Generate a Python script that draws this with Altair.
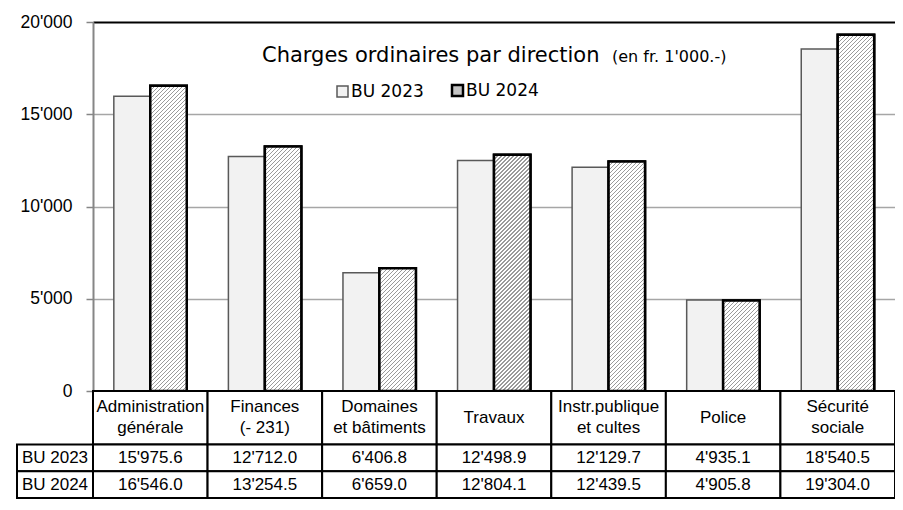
import altair as alt

# ---------------- data ----------------
categories = ["Administration\ngénérale", "Finances\n(- 231)", "Domaines\net bâtiments",
              "Travaux", "Instr.publique\net cultes", "Police", "Sécurité\nsociale"]
series = ["BU 2023", "BU 2024"]
bu2023 = [15975.6, 12712.0, 6406.8, 12498.9, 12129.7, 4935.1, 18540.5]
bu2024 = [16546.0, 13254.5, 6659.0, 12804.1, 12439.5, 4905.8, 19304.0]
y_ticks = [0, 5000, 10000, 15000, 20000]

# ---------------- layout constants ----------------
W, H = 802, 369
PAD_L, PAD_T = 85, 14
TABLE_H = 107
PAD_B = TABLE_H + 1
YMAX = 20000
BAR_W = W / len(categories) / (2 + 2 * 0.571)
TABLE_RANGE = [H, H + TABLE_H]
LINE_H = 21


def fmt(v):
    return f"{v:,.1f}".replace(",", "'")


def hatch(value, pitch=4.0, line=1.25, dark="#9a9a9a", light="#ffffff"):
    w = BAR_W
    h = value / YMAX * H
    denom = w * w + h * h
    t = lambda s: round(min(1.0, s * w / denom), 6)
    stops = [{"offset": 0, "color": light}]
    s = 0.0
    while s < w + h:
        a, b = t(s), t(s + line)
        stops += [{"offset": a, "color": light}, {"offset": a, "color": dark},
                  {"offset": b, "color": dark}, {"offset": b, "color": light}]
        s += pitch
    stops.append({"offset": 1, "color": light})
    return {"gradient": "linear", "x1": 0, "y1": 0, "x2": 1, "y2": h / w, "stops": stops}


bars = []
for c, a, b in zip(categories, bu2023, bu2024):
    bars.append({"cat": c, "series": series[0], "value": a})
    bars.append({"cat": c, "series": series[1], "value": b})
hatched = [{"cat": c, "series": series[1], "value": b, "grad": hatch(b)}
           for c, b in zip(categories, bu2024)]

cells = []
for c, a, b in zip(categories, bu2023, bu2024):
    cells.append({"cat": c, "r0": 0, "r1": 2, "txt": c, "lines": c.count("\n") + 1})
    cells.append({"cat": c, "r0": 2, "r1": 3, "txt": fmt(a), "lines": 1})
    cells.append({"cat": c, "r0": 3, "r1": 4, "txt": fmt(b), "lines": 1})
for d in cells:
    d["mid"] = (d["r0"] + d["r1"]) / 2
row_labels = [{"r0": 2, "r1": 3, "mid": 2.5, "txt": series[0]},
              {"r0": 3, "r1": 4, "mid": 3.5, "txt": series[1]}]

TABLE_FONT = "Liberation Sans"
TITLE_FONT = "DejaVu Sans"

x_enc = alt.X("cat:N", sort=categories,
              scale=alt.Scale(domain=categories, paddingInner=0, paddingOuter=0),
              axis=None)
xoff = alt.XOffset("series:N", scale=alt.Scale(domain=series, paddingInner=0, paddingOuter=0.571))
y_bar = alt.Y("value:Q", scale=alt.Scale(domain=[0, YMAX], nice=False, zero=True),
              axis=alt.Axis(values=y_ticks, title=None,
                            labelExpr="datum.value == 0 ? '0' : format(datum.value/1000, 'd') + \"'000\"",
                            labelFont="Liberation Sans", labelFontSize=17.5, labelColor="black",
                            labelPadding=14, tickSize=7, tickColor="#868686", tickWidth=1.5,
                            domainColor="#868686", domainWidth=2,
                            gridColor=alt.condition("datum.value == 20000", alt.value("black"), alt.value("#a6a6a6")),
                            gridWidth=alt.condition("datum.value == 20000", alt.value(2), alt.value(1.5))))
y_bar_noaxis = alt.Y("value:Q", scale=alt.Scale(domain=[0, YMAX], nice=False, zero=True), axis=None)

leg = alt.Legend(orient="none", legendX=241, legendY=60, direction="horizontal", title=None,
                 symbolType="square", symbolSize=121, labelFont=TITLE_FONT, labelFontSize=17,
                 labelColor="black", columnPadding=23, labelOffset=0, padding=0)

base_bars = alt.Chart(alt.Data(values=bars)).mark_bar().encode(
    x=x_enc, xOffset=xoff, y=y_bar,
    fill=alt.Fill("series:N", scale=alt.Scale(domain=series, range=["#f2f2f2", "#c4c4c4"]), legend=leg),
    stroke=alt.Stroke("series:N", scale=alt.Scale(domain=series, range=["#595959", "#000000"]), legend=leg),
    strokeWidth=alt.StrokeWidth("series:N", scale=alt.Scale(domain=series, range=[1.5, 2.5]), legend=leg),
)

hatch_bars = alt.Chart(alt.Data(values=hatched)).mark_bar(stroke="black", strokeWidth=2.5).encode(
    x=x_enc, xOffset=xoff, y=y_bar_noaxis,
    fill=alt.Fill("grad:N", scale=None, legend=None),
)

title_main = alt.Chart(alt.Data(values=[{}])).mark_text(
    text="Charges ordinaires par direction", font=TITLE_FONT, fontSize=21, align="left",
    baseline="alphabetic", color="black").encode(x=alt.value(169), y=alt.value(40))
title_sub = alt.Chart(alt.Data(values=[{}])).mark_text(
    text="(en fr. 1'000.-)", font=TITLE_FONT, fontSize=16, align="left",
    baseline="alphabetic", color="black").encode(x=alt.value(519), y=alt.value(40))

y_tab = lambda f: alt.Y(f, scale=alt.Scale(domain=[0, 4], range=TABLE_RANGE, nice=False, zero=False), axis=None)

table_rects = alt.Chart(alt.Data(values=cells)).mark_rect(fill="white", stroke="black", strokeWidth=2).encode(
    x=x_enc, y=y_tab("r0:Q"), y2="r1:Q")
text_1 = alt.Chart(alt.Data(values=cells)).transform_filter("datum.lines == 1").mark_text(
    font=TABLE_FONT, fontSize=17, color="black",
    align="center", baseline="middle").encode(x=x_enc, y=y_tab("mid:Q"), text="txt:N")
text_2 = alt.Chart(alt.Data(values=cells)).transform_filter("datum.lines == 2").mark_text(
    font=TABLE_FONT, fontSize=17, color="black", lineBreak="\n", lineHeight=LINE_H, dy=-LINE_H / 2,
    align="center", baseline="middle").encode(x=x_enc, y=y_tab("mid:Q"), text="txt:N")
row_rects = alt.Chart(alt.Data(values=row_labels)).mark_rect(fill="white", stroke="black", strokeWidth=2).encode(
    x=alt.value(-76), x2=alt.value(0), y=y_tab("r0:Q"), y2="r1:Q")
row_text = alt.Chart(alt.Data(values=row_labels)).mark_text(
    font=TABLE_FONT, fontSize=17, color="black", align="center", baseline="middle").encode(
    x=alt.value(-38), y=y_tab("mid:Q"), text="txt:N")

chart = alt.layer(base_bars, hatch_bars, title_main, title_sub,
                  table_rects, text_1, text_2, row_rects, row_text).resolve_scale(
    y="independent").properties(
    width=W, height=H,
    autosize=alt.AutoSizeParams(type="none"),
    padding={"left": PAD_L, "top": PAD_T, "right": 0, "bottom": PAD_B},
    background="white",
).configure_view(stroke=None)

chart.save("out.html", embed_options={"renderer": "svg", "actions": False})
